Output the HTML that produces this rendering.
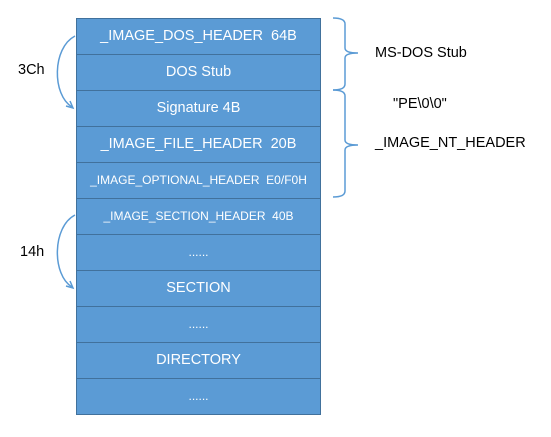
<!DOCTYPE html>
<html><head><style>
body{margin:0;width:551px;height:437px;background:#fff;position:relative;font-family:"Liberation Sans",sans-serif;overflow:hidden}
.r{position:absolute;left:76px;width:243px;height:35px;background:#5b9bd5;border:1px solid #41719c;color:#fff;font-size:14.5px;line-height:35px;text-align:center;white-space:nowrap}
.s{font-size:12px}
.t{position:absolute;font-size:14.5px;color:#000;white-space:nowrap}
</style></head><body>
<div class="r" style="top:18px">_IMAGE_DOS_HEADER&nbsp; 64B</div>
<div class="r" style="top:54px">DOS Stub</div>
<div class="r" style="top:90px">Signature 4B</div>
<div class="r" style="top:126px">_IMAGE_FILE_HEADER&nbsp; 20B</div>
<div class="r s" style="top:162px">_IMAGE_OPTIONAL_HEADER&nbsp; E0/F0H</div>
<div class="r s" style="top:198px">_IMAGE_SECTION_HEADER&nbsp; 40B</div>
<div class="r s" style="top:234px">......</div>
<div class="r" style="top:270px">SECTION</div>
<div class="r s" style="top:306px">......</div>
<div class="r" style="top:342px">DIRECTORY</div>
<div class="r s" style="top:378px">......</div>
<svg width="551" height="437" style="position:absolute;left:0;top:0" fill="none" stroke="#5b9bd5" stroke-width="1.5">
<path d="M75 36 C52 48,52 95,72 107"/><path d="M66 106 L73 108 L70 101"/>
<path d="M75 215 C52 227,52 275,72 287"/><path d="M66 286 L73 288 L70 281"/>
<path d="M333 18 Q345 18 345 24 L345 48 Q345 53 358 53 Q345 53 345 58 L345 84 Q345 90 333 90"/>
<path d="M333 90 Q345 90 345 96 L345 140 Q345 145 358 145 Q345 145 345 150 L345 191 Q345 197 333 197"/>
</svg>
<div class="t" style="left:18px;top:62px">3Ch</div>
<div class="t" style="left:20px;top:244px">14h</div>
<div class="t" style="left:375px;top:45px">MS-DOS Stub</div>
<div class="t" style="left:393px;top:96px">"PE\0\0"</div>
<div class="t" style="left:375px;top:135px">_IMAGE_NT_HEADER</div>
</body></html>
